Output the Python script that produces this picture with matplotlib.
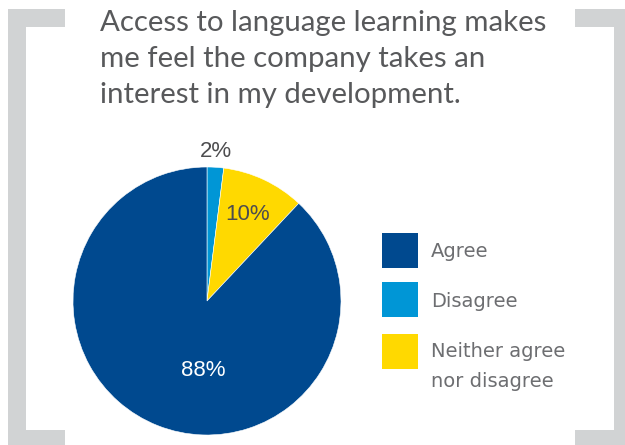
import matplotlib.pyplot as plt
from matplotlib.patches import Rectangle
import numpy as np

# data
labels = ["Agree", "Disagree", "Neither agree\nnor disagree"]
values = [88, 2, 10]
colors = ["#00498f", "#0096d6", "#ffd900"]
title_lines = ["Access to language learning makes",
               "me feel the company takes an",
               "interest in my development."]

W, H = 625, 445
fig = plt.figure(figsize=(W / 100, H / 100), dpi=100)

def fx(x):
    return x / W

def fy(y):
    return 1 - y / H

def box(x0, y0, x1, y1, c):
    fig.add_artist(Rectangle((fx(x0), fy(y1)), fx(x1) - fx(x0), fy(y0) - fy(y1),
                             transform=fig.transFigure, color=c, lw=0))

# gray brackets
grey = "#d1d3d4"
box(8, 9, 26, 445, grey)
box(8, 9, 65, 27, grey)
box(8, 430, 65, 445, grey)
box(614, 9, 625, 445, grey)
box(575, 9, 625, 27, grey)
box(575, 430, 625, 445, grey)

# title
for i, line in enumerate(title_lines):
    fig.text(fx(100), fy(31 + 36 * i), line, fontsize=21.2, family="Lato",
             color="#58595b", va="baseline", ha="left")

# pie: center (207, 301), radius 134 px
cx, cy, r = 207, 301, 134
ax = fig.add_axes([fx(cx - r), fy(cy + r), 2 * r / W, 2 * r / H])
order = [1, 2, 0]  # clockwise from top: disagree, neither, agree
wedges, _ = ax.pie([values[i] for i in order], colors=[colors[i] for i in order],
                   startangle=90, counterclock=False,
                   wedgeprops=dict(edgecolor="white", linewidth=0.4))
ax.set_xlim(-1, 1)
ax.set_ylim(-1, 1)
ax.set_aspect("equal")

# percentage labels
lab_pos = {1: (86.4, 1.12, "#4d4d4f"), 2: (64.8, 0.71, "#4d4d4f"), 0: (-93, 0.52, "white")}
for i in range(3):
    ang, rr, c = lab_pos[i]
    ax.text(rr * np.cos(np.radians(ang)), rr * np.sin(np.radians(ang)),
            "%d%%" % values[i], ha="center", va="center", fontsize=16,
            family="Liberation Sans", color=c)

# legend
sq_y = [233, 282, 334]
txt_y = [257, 307, 357]
for i in range(3):
    box(382, sq_y[i], 418, sq_y[i] + 35, colors[i])
    for j, part in enumerate(labels[i].split("\n")):
        fig.text(fx(431), fy(txt_y[i] + 30 * j), part, fontsize=14,
                 family="DejaVu Sans", color="#6d6e71", va="baseline", ha="left")

fig.savefig("out.png", dpi=100)
